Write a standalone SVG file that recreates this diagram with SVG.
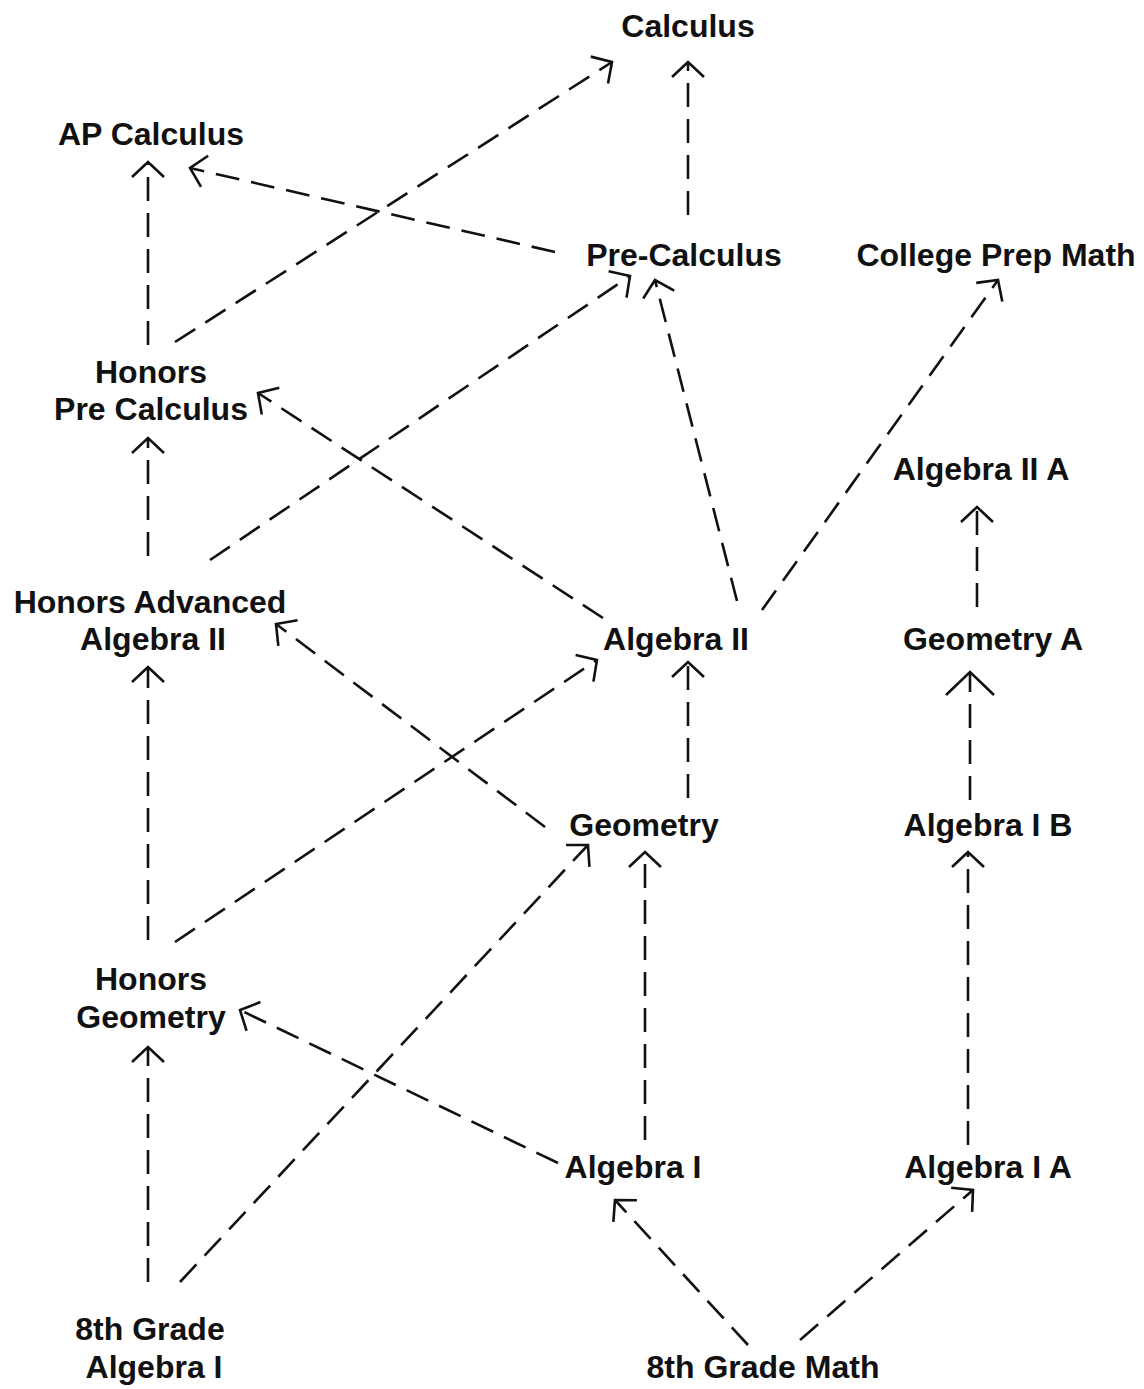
<svg xmlns="http://www.w3.org/2000/svg" width="1144" height="1389" viewBox="0 0 1144 1389">
<style>
text{font-family:"Liberation Sans",Arial,sans-serif;font-weight:bold;font-size:32px;fill:#111;text-anchor:middle}
.c line{stroke:#111;stroke-width:2.6;stroke-dasharray:24 12;fill:none}
</style>
<defs>
<marker id="a" markerUnits="userSpaceOnUse" viewBox="-20 -20 24 40" refX="0" refY="0" markerWidth="24" markerHeight="40" orient="auto" overflow="visible">
<path d="M-15,-16 L0,0 L-15,16" fill="none" stroke="#111" stroke-width="2.6"/>
</marker>
<marker id="b" markerUnits="userSpaceOnUse" viewBox="-30 -30 34 60" refX="0" refY="0" markerWidth="34" markerHeight="60" orient="auto" overflow="visible">
<path d="M-23,-24 L0,0 L-23,24" fill="none" stroke="#111" stroke-width="2.6"/>
</marker>
</defs>
<rect width="1144" height="1389" fill="#fff"/>
<g class="c" marker-end="url(#a)">
<line x1="175" y1="342" x2="612" y2="62" marker-end="url(#a)"/>
<line x1="688" y1="215" x2="688" y2="62" marker-end="url(#a)"/>
<line x1="148" y1="345" x2="148" y2="162" marker-end="url(#a)"/>
<line x1="555" y1="252" x2="190" y2="168" marker-end="url(#a)"/>
<line x1="148" y1="556" x2="148" y2="438" marker-end="url(#a)"/>
<line x1="210" y1="560" x2="630" y2="276" marker-end="url(#a)"/>
<line x1="737" y1="601" x2="655" y2="280" marker-end="url(#a)"/>
<line x1="762" y1="610" x2="998" y2="280" marker-end="url(#a)"/>
<line x1="603" y1="618" x2="258" y2="393" marker-end="url(#a)"/>
<line x1="977" y1="607" x2="977" y2="507" marker-end="url(#a)"/>
<line x1="148" y1="940" x2="148" y2="667" marker-end="url(#a)"/>
<line x1="175" y1="942" x2="597" y2="660" marker-end="url(#a)"/>
<line x1="545" y1="827" x2="276" y2="624" marker-end="url(#a)"/>
<line x1="688" y1="798" x2="688" y2="662" marker-end="url(#a)"/>
<line x1="970" y1="800" x2="970" y2="672" marker-end="url(#b)"/>
<line x1="645" y1="1140" x2="645" y2="852" marker-end="url(#a)"/>
<line x1="180" y1="1282" x2="588" y2="845" marker-end="url(#a)"/>
<line x1="558" y1="1163" x2="240" y2="1010" marker-end="url(#a)"/>
<line x1="148" y1="1282" x2="148" y2="1047" marker-end="url(#a)"/>
<line x1="968" y1="1145" x2="968" y2="852" marker-end="url(#a)"/>
<line x1="748" y1="1345" x2="615" y2="1200" marker-end="url(#a)"/>
<line x1="800" y1="1340" x2="973" y2="1190" marker-end="url(#a)"/>
</g>
<g id="calculus"><text x="688" y="37">Calculus</text></g>
<g id="ap-calculus"><text x="151" y="145">AP Calculus</text></g>
<g id="pre-calculus"><text x="684" y="266">Pre-Calculus</text></g>
<g id="college-prep"><text x="996" y="266">College Prep Math</text></g>
<g id="honors-pre-calc"><text x="151" y="383">Honors</text><text x="151" y="420">Pre Calculus</text></g>
<g id="algebra-2a"><text x="981" y="480">Algebra II A</text></g>
<g id="honors-adv-alg2"><text x="150" y="613">Honors Advanced</text><text x="153" y="650">Algebra II</text></g>
<g id="algebra-2"><text x="676" y="650">Algebra II</text></g>
<g id="geometry-a"><text x="993" y="650">Geometry A</text></g>
<g id="geometry"><text x="644" y="836">Geometry</text></g>
<g id="algebra-1b"><text x="988" y="836">Algebra I B</text></g>
<g id="honors-geometry"><text x="151" y="990">Honors</text><text x="151" y="1028">Geometry</text></g>
<g id="algebra-1"><text x="633" y="1178">Algebra I</text></g>
<g id="algebra-1a"><text x="988" y="1178">Algebra I A</text></g>
<g id="grade8-alg1"><text x="150" y="1340">8th Grade</text><text x="154" y="1378">Algebra I</text></g>
<g id="grade8-math"><text x="763" y="1378">8th Grade Math</text></g>
</svg>
